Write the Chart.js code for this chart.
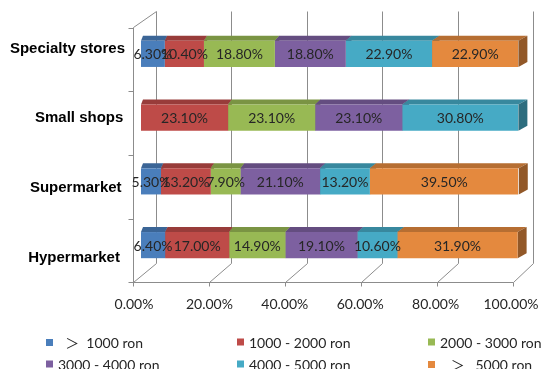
<!DOCTYPE html>
<html>
<head>
<meta charset="utf-8">
<script src="https://cdn.jsdelivr.net/npm/chart.js@4.4.1/dist/chart.umd.min.js"></script>
<style>
  body { margin: 0; background: #fff; }
  #wrap { position: relative; width: 542px; height: 369px; }
  #legend .item {
    position: absolute; transform: translateY(-50%);
    display: flex; align-items: center; white-space: pre;
    font: 14px Lato, 'Noto Sans CJK SC', sans-serif; color: #262626;
  }
  #legend .box { width: 7px; height: 7px; margin-right: 5px; }
</style>
</head>
<body>
<div id="wrap">
  <canvas id="chart" width="542" height="369"></canvas>
  <div id="legend"></div>
</div>
<script>
// store types, top to bottom
const stores = ['Specialty stores', 'Small shops', 'Supermarket', 'Hypermarket'];

// income bands (legend text)
const bands = ['  ＞  1000 ron', '1000 - 2000 ron', '2000 - 3000 ron',
               '3000 - 4000 ron', '4000 - 5000 ron', '   ＞   5000 ron'];

// share of customers per band, in %
const under1000 = [6.3, 0, 5.3, 6.4];
const from1000 = [10.4, 23.1, 13.2, 17.0];
const from2000 = [18.8, 23.1, 7.9, 14.9];
const from3000 = [18.8, 23.1, 21.1, 19.1];
const from4000 = [22.9, 30.8, 13.2, 10.6];
const over5000 = [22.9, 0, 39.5, 31.9];

const xTicks = [0, 20, 40, 60, 80, 100];

const barColors = ['#4A7EBB', '#BE4B48', '#98B954', '#7D60A0', '#46AAC5', '#E4893E'];
const legendCols = [46, 237, 428];
const legendRows = [342, 364];

function shade(hex, f){
  const n = parseInt(hex.slice(1), 16);
  const r = Math.round((n >> 16) * f), g = Math.round(((n >> 8) & 255) * f), b = Math.round((n & 255) * f);
  return `rgb(${r},${g},${b})`;
}

// back wall, floor and left wall, then top/side faces of every bar
const box3d = {
  id: 'box3d',
  beforeDatasetsDraw(chart){
    const {ctx, chartArea: a, scales: {x}} = chart;
    const frontX = v => Math.round(x.getPixelForValue(v) - 8 + 0.03 * v) + 0.5;
    const backX = v => Math.round(x.getPixelForValue(v) + 15) + 0.5;
    const floorF = a.bottom + 5.5, floorB = a.bottom - 13.5;
    const topF = a.top + 5.5, topB = a.top - 10.5;

    ctx.save();
    ctx.strokeStyle = '#8c8c8c';
    ctx.lineWidth = 1;
    ctx.beginPath();
    xTicks.forEach(v => {
      ctx.moveTo(backX(v), topB); ctx.lineTo(backX(v), floorB);
      ctx.lineTo(frontX(v), floorF); ctx.lineTo(frontX(v), floorF + 4);
    });
    const x0 = frontX(0);
    ctx.moveTo(x0 - 5, floorF); ctx.lineTo(frontX(100), floorF);
    ctx.moveTo(backX(0), topB); ctx.lineTo(x0, topF); ctx.lineTo(x0, floorF);
    for (let i = 0; i < stores.length; i++){
      const yy = Math.round(topF + i * (floorF - topF) / stores.length) + 0.5;
      ctx.moveTo(x0 - 5, yy); ctx.lineTo(x0, yy);
    }
    ctx.stroke();

    const depth = px => 2 + 7 * (px - a.left) / (a.right - a.left);
    const dy = 5;
    chart.data.datasets.forEach((ds, di) => {
      chart.getDatasetMeta(di).data.forEach((bar, i) => {
        if (!ds.data[i]) return;
        const {x: end, y, base, height} = bar.getProps(['x', 'y', 'base', 'height'], true);
        const top = y - height / 2, bottom = y + height / 2;
        ctx.fillStyle = shade(ds.backgroundColor, 0.8);
        ctx.beginPath();
        ctx.moveTo(base, top);
        ctx.lineTo(base + depth(base), top - dy);
        ctx.lineTo(end + depth(end), top - dy);
        ctx.lineTo(end, top);
        ctx.closePath();
        ctx.fill();
        ctx.fillStyle = shade(ds.backgroundColor, 0.64);
        ctx.beginPath();
        ctx.moveTo(end, top);
        ctx.lineTo(end + depth(end), top - dy);
        ctx.lineTo(end + depth(end), bottom - dy);
        ctx.lineTo(end, bottom);
        ctx.closePath();
        ctx.fill();
      });
    });
    ctx.restore();
  },
  afterDatasetsDraw(chart){
    const {ctx, chartArea: a, scales: {y}} = chart;
    ctx.save();
    // value labels on the front faces
    ctx.font = '14px Lato, sans-serif';
    ctx.fillStyle = '#262626';
    ctx.textAlign = 'center';
    ctx.textBaseline = 'middle';
    chart.data.datasets.forEach((ds, di) => {
      chart.getDatasetMeta(di).data.forEach((bar, i) => {
        const v = ds.data[i];
        if (!v) return;
        const {x: end, y: cy, base} = bar.getProps(['x', 'y', 'base'], true);
        ctx.fillText(v.toFixed(2) + '%', (base + end) / 2, cy + 1);
      });
    });
    // store names on the left wall
    const mid = (a.top + a.bottom) / 2;
    ctx.font = 'bold 15px "Liberation Sans", Arial, sans-serif';
    ctx.fillStyle = '#000';
    ctx.textAlign = 'right';
    stores.forEach((s, i) => {
      const py = y.getPixelForValue(i);
      ctx.fillText(s, a.left - 16 - i * 1.7, mid + 3.5 + (py - mid) * 1.094);
    });
    ctx.restore();
  }
};

const series = [under1000, from1000, from2000, from3000, from4000, over5000];

const chart = new Chart(document.getElementById('chart'), {
  type: 'bar',
  data: {
    labels: stores,
    datasets: series.map((data, i) => ({
      label: bands[i],
      data,
      backgroundColor: barColors[i],
      borderWidth: 0,
      barPercentage: 0.41,
      categoryPercentage: 1
    }))
  },
  options: {
    indexAxis: 'y',
    responsive: false,
    animation: false,
    layout: { padding: { left: 141, right: 24, top: 22, bottom: 0 } },
    plugins: { legend: { display: false }, tooltip: { enabled: false } },
    scales: {
      x: {
        stacked: true, min: 0, max: 100,
        afterBuildTicks: s => { s.ticks = xTicks.map(v => ({ value: v })); },
        afterFit: s => { s.height = 92; s.paddingLeft = 0; s.paddingRight = 0; },
        grid: { display: false, drawTicks: false },
        border: { display: false },
        ticks: {
          padding: 19, labelOffset: -7, maxRotation: 0, autoSkip: false,
          color: '#262626', font: { family: 'Lato', size: 14 },
          callback: v => v.toFixed(2) + '%'
        }
      },
      y: { stacked: true, display: false }
    }
  },
  plugins: [box3d]
});

// legend: three columns, two rows
const legend = document.getElementById('legend');
chart.data.datasets.forEach((ds, i) => {
  const item = document.createElement('div');
  item.className = 'item';
  item.style.left = legendCols[i % 3] + 'px';
  item.style.top = legendRows[Math.floor(i / 3)] + 'px';
  item.innerHTML = `<span class="box" style="background:${ds.backgroundColor}"></span><span>${ds.label}</span>`;
  legend.appendChild(item);
});
</script>
</body>
</html>
